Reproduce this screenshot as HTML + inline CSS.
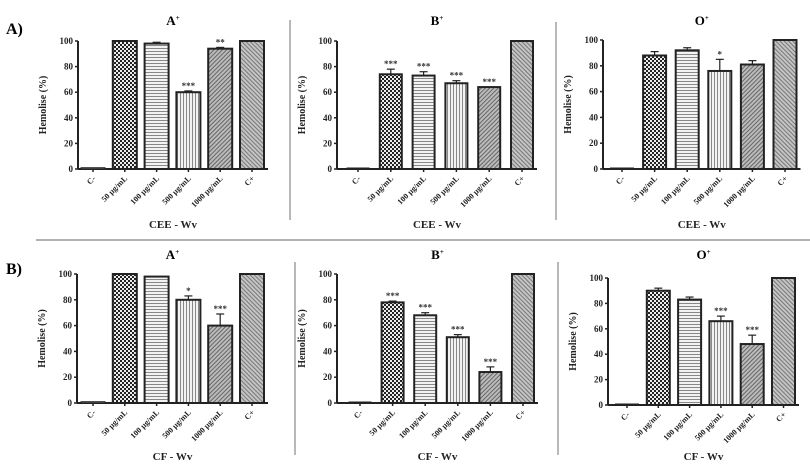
<!DOCTYPE html>
<html><head><meta charset="utf-8"><style>
html,body{margin:0;padding:0;background:#fff}
svg{display:block;font-family:"Liberation Serif",serif}
</style></head><body>
<svg id="fig" width="810" height="472" viewBox="0 0 810 472">
<defs>
<pattern id="pChk" width="4" height="4" patternUnits="userSpaceOnUse"><rect width="4" height="4" fill="#eee"/><rect width="2" height="2" fill="#222"/><rect x="2" y="2" width="2" height="2" fill="#222"/></pattern>
<pattern id="pH" width="4" height="3" patternUnits="userSpaceOnUse"><rect width="4" height="3" fill="#f2f2f2"/><rect width="4" height="1" fill="#888"/></pattern>
<pattern id="pV" width="3" height="4" patternUnits="userSpaceOnUse"><rect width="3" height="4" fill="#f2f2f2"/><rect width="1" height="4" fill="#888"/></pattern>
<pattern id="pD" width="3" height="3" patternUnits="userSpaceOnUse" patternTransform="rotate(45)"><rect width="3" height="3" fill="#bbb"/><rect width="1" height="3" fill="#666"/></pattern>
<pattern id="pD2" width="3" height="3" patternUnits="userSpaceOnUse" patternTransform="rotate(-45)"><rect width="3" height="3" fill="#c4c4c4"/><rect width="1" height="3" fill="#777"/></pattern>
</defs>
<g id="root"></g>
</svg>
<script>
const categories = ["C-", "50 µg/mL", "100 µg/mL", "500 µg/mL", "1000 µg/mL", "C+"];
const yTicks = [0, 20, 40, 60, 80, 100];
const vA_A = [1, 100, 98, 60, 94, 100];
const eA_A = [0, 0, 1, 1, 1, 0];
const sA_A = ["", "", "", "***", "**", ""];
const vA_B = [0, 74, 73, 67, 64, 100];
const eA_B = [0, 4, 3, 2, 0, 0];
const sA_B = ["", "***", "***", "***", "***", ""];
const vA_O = [0, 88, 92, 76, 81, 100];
const eA_O = [0, 3, 2, 9, 3, 0];
const sA_O = ["", "", "", "*", "", ""];
const vB_A = [1, 100, 98, 80, 60, 100];
const eB_A = [0, 0, 0, 3, 9, 0];
const sB_A = ["", "", "", "*", "***", ""];
const vB_B = [0, 78, 68, 51, 24, 100];
const eB_B = [0, 1, 2, 2, 4, 0];
const sB_B = ["", "***", "***", "***", "***", ""];
const vB_O = [0, 90, 83, 66, 48, 100];
const eB_O = [0, 2, 2, 4, 7, 0];
const sB_O = ["", "", "", "***", "***", ""];

const NS = "http://www.w3.org/2000/svg";
const root = document.getElementById("root");
function mk(tag, attrs, parent, txt){
  const e = document.createElementNS(NS, tag);
  for (const k in attrs) e.setAttribute(k, attrs[k]);
  if (txt !== undefined) e.textContent = txt;
  (parent || root).appendChild(e);
  return e;
}
const fills = ["url(#pH)", "url(#pChk)", "url(#pH)", "url(#pV)", "url(#pD)", "url(#pD2)"];

const panels = [
  {name:"a-aplus", title:"A", ax:78, y100:41, y0:169, c0:93, step:31.8, bw:24, vals:vA_A, errs:eA_A, sig:sA_A, xt:"CEE - Wv", ty:25, xty:228},
  {name:"a-bplus", title:"B", ax:337, y100:41, y0:169, c0:358, step:32.8, bw:22, vals:vA_B, errs:eA_B, sig:sA_B, xt:"CEE - Wv", ty:25, xty:228},
  {name:"a-oplus", title:"O", ax:603, y100:40, y0:169, c0:622, step:32.6, bw:23, vals:vA_O, errs:eA_O, sig:sA_O, xt:"CEE - Wv", ty:25, xty:228},
  {name:"b-aplus", title:"A", ax:77, y100:274, y0:403, c0:93, step:31.8, bw:24, vals:vB_A, errs:eB_A, sig:sB_A, xt:"CF - Wv", ty:259, xty:460},
  {name:"b-bplus", title:"B", ax:337, y100:274, y0:403, c0:360, step:32.6, bw:22, vals:vB_B, errs:eB_B, sig:sB_B, xt:"CF - Wv", ty:259, xty:460},
  {name:"b-oplus", title:"O", ax:608, y100:278, y0:405, c0:627, step:31.3, bw:23, vals:vB_O, errs:eB_O, sig:sB_O, xt:"CF - Wv", ty:259, xty:460}
];

panels.forEach(p => {
  const g = mk("g", {});
  
  
  const y = v => p.y0 - (p.y0 - p.y100) * v / 100;
  const xc = i => p.c0 + i * p.step;
  const right = xc(5) + p.bw / 2 + 4;
  const t = mk("text", {x: (p.ax + right) / 2, y: p.ty, "text-anchor": "middle", "font-size": 13, "font-weight": "bold"}, g);
  
  
  t.textContent = p.title;
  mk("tspan", {dy: -5, "font-size": 7}, t, "+");
  const yt = mk("text", {transform: `translate(${p.ax - 32},${(p.y0 + p.y100) / 2}) rotate(-90)`, "text-anchor": "middle", "font-size": 10, "font-weight": "bold", fill: "#222"}, g, "Hemolise (%)");
  
  
  const ya = mk("line", {x1: p.ax, x2: p.ax, y1: p.y100, y2: p.y0, stroke: "#222", "stroke-width": 2}, g);
  
  
  const xa = mk("line", {x1: p.ax, x2: right, y1: p.y0, y2: p.y0, stroke: "#222", "stroke-width": 2}, g);
  
  
  yTicks.forEach(v => {
    mk("line", {x1: p.ax - 3, x2: p.ax, y1: y(v), y2: y(v), stroke: "#222", "stroke-width": 1.5}, g);
    const tl = mk("text", {x: p.ax - 5, y: y(v) + 3, "text-anchor": "end", "font-size": 9, "font-weight": "bold", fill: "#222"}, g, String(v));
    
    
  });
  categories.forEach((c, i) => {
    const cx = xc(i);
    mk("line", {x1: cx, x2: cx, y1: p.y0, y2: p.y0 + 3, stroke: "#222", "stroke-width": 1.5}, g);
    const v = p.vals[i];
    const top = y(v);
    if (p.errs[i] > 0) {
      mk("line", {x1: cx, x2: cx, y1: y(v + p.errs[i]), y2: top, stroke: "#222", "stroke-width": 1.2}, g);
      mk("line", {x1: cx - 4, x2: cx + 4, y1: y(v + p.errs[i]), y2: y(v + p.errs[i]), stroke: "#222", "stroke-width": 1.2}, g);
    }
    const h = Math.max(p.y0 - top, 1);
    const b = mk("rect", {x: cx - p.bw / 2, y: p.y0 - h, width: p.bw, height: h, fill: fills[i], stroke: "#222", "stroke-width": v < 3 ? 1 : 2}, g);
    
    
    if (p.sig[i]) {
      const s = mk("text", {x: cx, y: y(v + p.errs[i]) - 2, "text-anchor": "middle", "font-size": 9, "font-weight": "bold", fill: "#333"}, g, p.sig[i]);
      
      
    }
    const xl = mk("text", {transform: `translate(${cx + 3},${p.y0 + 10}) rotate(-45)`, "text-anchor": "end", "font-size": 8, "font-weight": "bold", fill: "#222"}, g, c);
    
    
  });
  const xtt = mk("text", {x: (p.ax + right) / 2, y: p.xty, "text-anchor": "middle", "font-size": 11, "font-weight": "bold", fill: "#222"}, g, p.xt);
  
  
});

const la = mk("text", {x: 6, y: 34, "font-size": 16, "font-weight": "bold"}, root, "A)");


const lb = mk("text", {x: 6, y: 274, "font-size": 16, "font-weight": "bold"}, root, "B)");


const hl = mk("line", {x1: 36, x2: 810, y1: 240, y2: 240, stroke: "#999", "stroke-width": 1.5});


[[290, 20, 220], [556, 22, 220], [295, 262, 455], [558, 262, 455]].forEach(d => {
  const l = mk("line", {x1: d[0], x2: d[0], y1: d[1], y2: d[2], stroke: "#888", "stroke-width": 1.2});
  
  
});
</script>
</body></html>
